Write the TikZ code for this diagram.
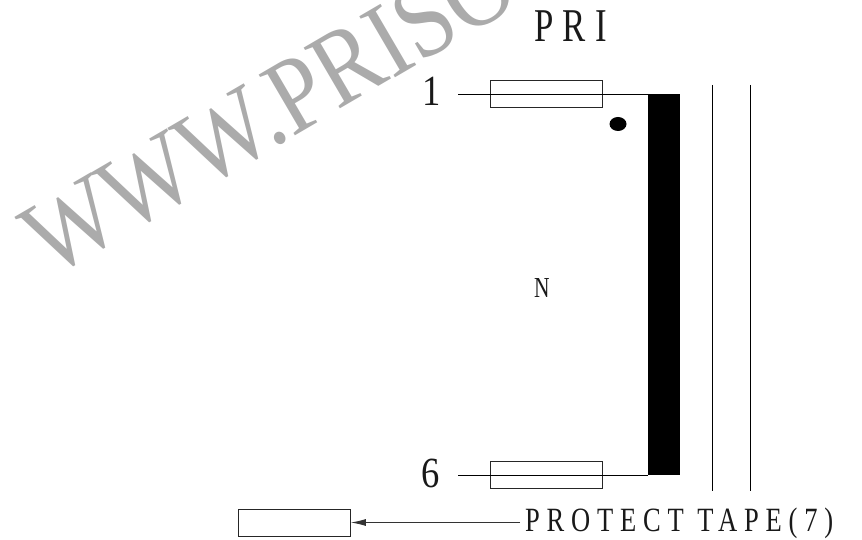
\documentclass[tikz,border=0pt]{standalone}
\usepackage{fontspec}
\usetikzlibrary{arrows.meta,shapes.geometric}
\setmainfont{Liberation Serif}
\newfontfamily\cadfont[FakeStretch=0.74,LetterSpace=20]{Liberation Serif}
\newfontfamily\ptfont[FakeStretch=0.78,LetterSpace=20]{Liberation Serif}
\newfontfamily\numfont[FakeStretch=0.85]{Liberation Serif}
\newfontfamily\wmfont[FakeStretch=0.87]{Liberation Serif}
\tikzset{
 part/.style={draw=black!85,line width=0.8pt,fill=none,inner sep=0pt,minimum width=112pt,minimum height=27pt},
 wire/.style={draw=black,line width=0.9pt},
 lbl/.style={inner sep=0pt,text=black!90},
 core/.style={fill=black,draw=none,inner sep=0pt,minimum width=32pt,minimum height=381pt},
 dotmark/.style={fill=black,draw=none,ellipse,inner sep=0pt,minimum width=17pt,minimum height=14pt},
 tip/.style={-{Latex[length=15pt,width=7pt]}}
}
\begin{document}
\begin{tikzpicture}[x=1pt,y=-1pt]
\useasboundingbox (0,0) rectangle (862,540);
\clip (0,0) rectangle (862,540);
\node[anchor=base west,rotate=30.3,inner sep=0pt,text=black!33,font=\wmfont\fontsize{108}{108}\selectfont] (wm) at (50,279) {WWW.PRISO};
\node[part] (fuseA) at (546,93.5) {};
\node[part] (fuseB) at (546,474.5) {};
\node[part] (tape) at (294.5,522.5) {};
\node[core] (coil) at (664,284.5) {};
\coordinate (endA) at (458,94);
\coordinate (endB) at (458,475);
\coordinate (coreTL) at (648,94);
\coordinate (coreBL) at (648,475);
\draw[wire] (endA) -- (coreTL);
\draw[wire] (endB) -- (coreBL);
\coordinate (s1t) at (712,85); \coordinate (s1b) at (712,491);
\coordinate (s2t) at (750,85); \coordinate (s2b) at (750,491);
\draw[wire] (s1t) -- (s1b);
\draw[wire] (s2t) -- (s2b);
\node[dotmark] (dot) at (618,124) {};
\node[lbl,anchor=base west,font=\cadfont\fontsize{47}{47}\selectfont] (pri) at (534,42) {PRI};
\node[lbl,anchor=base,font=\numfont\fontsize{43}{43}\selectfont] (one) at (432,106) {1};
\node[lbl,anchor=base,font=\numfont\fontsize{43}{43}\selectfont] (six) at (431,487) {6};
\node[lbl,anchor=base west,font=\cadfont\fontsize{29}{29}\selectfont] (n) at (534,297) {N};
\node[lbl,anchor=base west,font=\ptfont\fontsize{34}{34}\selectfont] (ptxt) at (525,531) {PROTECT TAPE(7)};
\coordinate (arrowstart) at (520,522.5);
\draw[wire,draw=black!80,tip] (arrowstart) -- (tape.east);
\end{tikzpicture}
\end{document}
